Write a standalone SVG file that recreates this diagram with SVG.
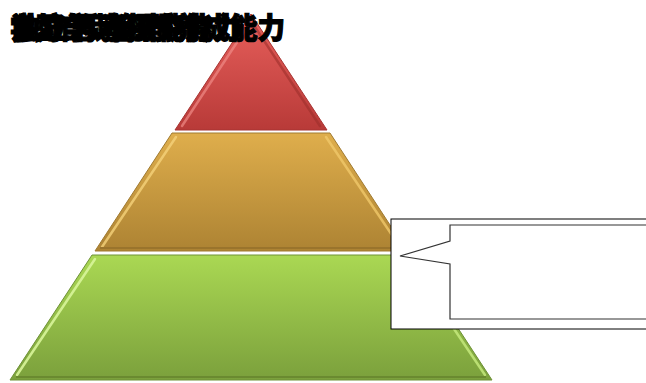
<svg xmlns="http://www.w3.org/2000/svg" width="646" height="383" viewBox="0 0 646 383">
<style>
.title{font-family:"Noto Sans CJK SC","Noto Sans CJK JP",sans-serif;font-size:29px;font-weight:900;fill:#000;stroke:#000;stroke-width:1.2}
.bevel{fill:none;stroke-width:2.5;stroke-linecap:round}
</style>
<defs>
<linearGradient id="gRed" x1="0" y1="0" x2="0" y2="1">
<stop offset="0" stop-color="#e8605c"/><stop offset="1" stop-color="#b83a38"/>
</linearGradient>
<linearGradient id="gOrange" x1="0" y1="0" x2="0" y2="1">
<stop offset="0" stop-color="#dfae4c"/><stop offset="1" stop-color="#ad8333"/>
</linearGradient>
<linearGradient id="gGreen" x1="0" y1="0" x2="0" y2="1">
<stop offset="0" stop-color="#aad853"/><stop offset="1" stop-color="#7ba03c"/>
</linearGradient>
</defs>
<rect width="646" height="383" fill="#fff"/>
<g id="layer-top">
<polygon points="251,14 327,130 175,130" fill="url(#gRed)" stroke="#a83432" stroke-width="1" stroke-linejoin="round"/>
<polyline class="bevel" points="182,126 249,24" stroke="#f08a86" opacity="0.7"/>
<polyline class="bevel" points="253,24 320,126" stroke="#9c2e2c" opacity="0.6"/>
</g>
<g id="layer-middle">
<polygon points="172,133 330,133 407,251 95,251" fill="url(#gOrange)" stroke="#a07a30" stroke-width="1"/>
<polyline class="bevel" points="102,247 176,137" stroke="#f5d27a" opacity="0.8"/>
<polyline class="bevel" points="326,137 400,247" stroke="#f0c86a" opacity="0.8"/>
<line x1="100" y1="248" x2="402" y2="248" stroke="#9a742c" stroke-width="2"/>
</g>
<g id="layer-bottom">
<polygon points="92,255 410,255 492,380 10,380" fill="url(#gGreen)" stroke="#6e9236" stroke-width="1"/>
<polyline class="bevel" points="17,375 95,259" stroke="#d8f59a" opacity="0.9"/>
<polyline class="bevel" points="407,259 485,375" stroke="#c8ec80" opacity="0.8"/>
<line x1="16" y1="377" x2="486" y2="377" stroke="#6a8a30" stroke-width="2"/>
</g>
<g id="callout">
<rect x="391" y="219" width="262" height="110" fill="#fff" stroke="#000" stroke-width="1"/>
<path d="M650,225 H450 V241 L400,256 L450,264 V319 H650" fill="#fff" stroke="#333" stroke-width="1.2"/>
</g>
<g id="title">
<text class="title" x="10" y="39" textLength="200" lengthAdjust="spacingAndGlyphs">学习自我管理能力</text>
<text class="title" x="12" y="39" textLength="230" lengthAdjust="spacingAndGlyphs">独立思考探究能力</text>
<text class="title" x="10" y="39" textLength="275" lengthAdjust="spacingAndGlyphs">良好学习习惯养成能力</text>
</g>
</svg>
